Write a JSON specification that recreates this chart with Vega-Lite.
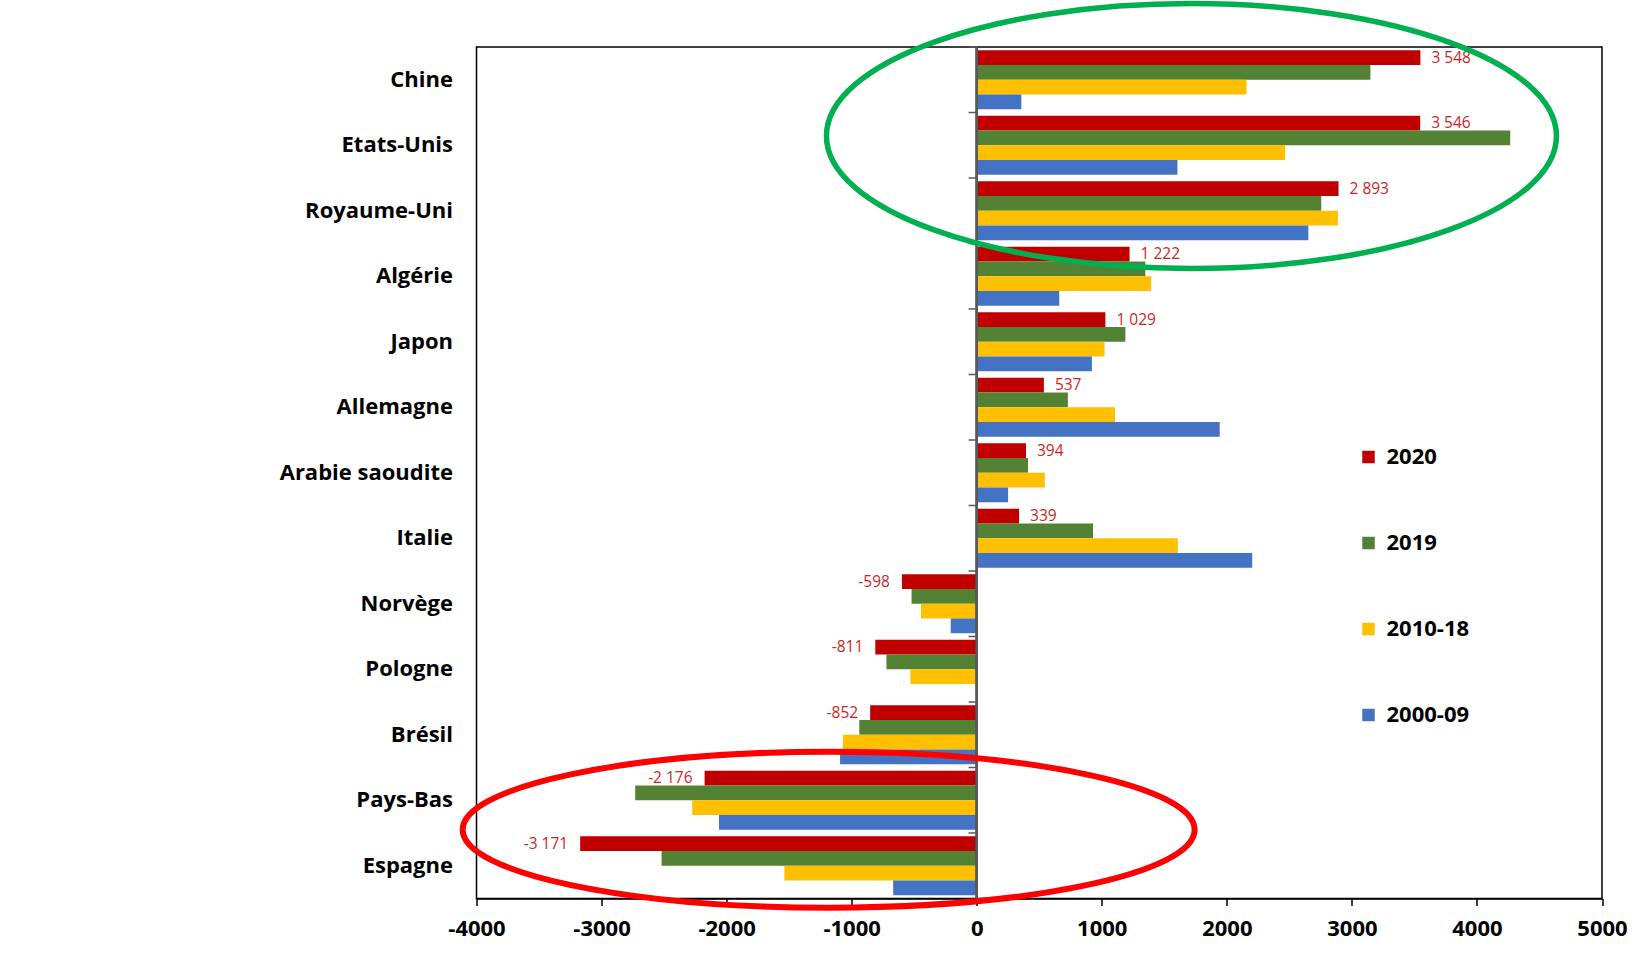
{
  "$schema": "https://vega.github.io/schema/vega-lite/v6.json",
  "width": 1125.5,
  "height": 851.5,
  "autosize": {"type": "none"},
  "padding": {"left": 476.5, "top": 47, "right": 40, "bottom": 59.5},
  "background": "white",
  "config": {
    "locale": {"number": {"decimal": ",", "thousands": " ", "grouping": [3], "currency": ["", " €"], "minus": "-"}},
    "view": {"stroke": "#000000", "strokeWidth": 1.5},
    "axis": {"grid": false},
    "font": "Open Sans"
  },
  "datasets": {
    "flux": [
      {"country": "Chine", "period": "2020", "value": 3548},
      {"country": "Chine", "period": "2019", "value": 3148},
      {"country": "Chine", "period": "2010-18", "value": 2157},
      {"country": "Chine", "period": "2000-09", "value": 357},
      {"country": "Etats-Unis", "period": "2020", "value": 3546},
      {"country": "Etats-Unis", "period": "2019", "value": 4266},
      {"country": "Etats-Unis", "period": "2010-18", "value": 2466},
      {"country": "Etats-Unis", "period": "2000-09", "value": 1605},
      {"country": "Royaume-Uni", "period": "2020", "value": 2893},
      {"country": "Royaume-Uni", "period": "2019", "value": 2755},
      {"country": "Royaume-Uni", "period": "2010-18", "value": 2888},
      {"country": "Royaume-Uni", "period": "2000-09", "value": 2652},
      {"country": "Algérie", "period": "2020", "value": 1222},
      {"country": "Algérie", "period": "2019", "value": 1348},
      {"country": "Algérie", "period": "2010-18", "value": 1395},
      {"country": "Algérie", "period": "2000-09", "value": 660},
      {"country": "Japon", "period": "2020", "value": 1029},
      {"country": "Japon", "period": "2019", "value": 1189},
      {"country": "Japon", "period": "2010-18", "value": 1022},
      {"country": "Japon", "period": "2000-09", "value": 921},
      {"country": "Allemagne", "period": "2020", "value": 537},
      {"country": "Allemagne", "period": "2019", "value": 729},
      {"country": "Allemagne", "period": "2010-18", "value": 1106},
      {"country": "Allemagne", "period": "2000-09", "value": 1943},
      {"country": "Arabie saoudite", "period": "2020", "value": 394},
      {"country": "Arabie saoudite", "period": "2019", "value": 410},
      {"country": "Arabie saoudite", "period": "2010-18", "value": 544},
      {"country": "Arabie saoudite", "period": "2000-09", "value": 251},
      {"country": "Italie", "period": "2020", "value": 339},
      {"country": "Italie", "period": "2019", "value": 930},
      {"country": "Italie", "period": "2010-18", "value": 1608},
      {"country": "Italie", "period": "2000-09", "value": 2203},
      {"country": "Norvège", "period": "2020", "value": -598},
      {"country": "Norvège", "period": "2019", "value": -521},
      {"country": "Norvège", "period": "2010-18", "value": -446},
      {"country": "Norvège", "period": "2000-09", "value": -208},
      {"country": "Pologne", "period": "2020", "value": -811},
      {"country": "Pologne", "period": "2019", "value": -722},
      {"country": "Pologne", "period": "2010-18", "value": -531},
      {"country": "Brésil", "period": "2020", "value": -852},
      {"country": "Brésil", "period": "2019", "value": -939},
      {"country": "Brésil", "period": "2010-18", "value": -1070},
      {"country": "Brésil", "period": "2000-09", "value": -1093},
      {"country": "Pays-Bas", "period": "2020", "value": -2176},
      {"country": "Pays-Bas", "period": "2019", "value": -2731},
      {"country": "Pays-Bas", "period": "2010-18", "value": -2275},
      {"country": "Pays-Bas", "period": "2000-09", "value": -2061},
      {"country": "Espagne", "period": "2020", "value": -3171},
      {"country": "Espagne", "period": "2019", "value": -2520},
      {"country": "Espagne", "period": "2010-18", "value": -1538},
      {"country": "Espagne", "period": "2000-09", "value": -668}
    ]
  },
  "data": {"name": "flux"},
  "layer": [
    {
      "mark": {"type": "bar"},
      "encoding": {
        "y": {
          "field": "country",
          "type": "nominal",
          "scale": {
            "domain": ["Chine", "Etats-Unis", "Royaume-Uni", "Algérie", "Japon", "Allemagne", "Arabie saoudite", "Italie", "Norvège", "Pologne", "Brésil", "Pays-Bas", "Espagne"],
            "paddingInner": 0.1,
            "paddingOuter": 0.05
          },
          "axis": {
            "title": null,
            "domain": false,
            "ticks": false,
            "labelFont": "Open Sans",
            "labelFontWeight": "bold",
            "labelFontSize": 22,
            "labelColor": "#000000",
            "labelPadding": 24
          }
        },
        "yOffset": {
          "field": "period",
          "type": "nominal",
          "scale": {"domain": ["2020", "2019", "2010-18", "2000-09"], "paddingInner": 0, "paddingOuter": 0}
        },
        "x": {
          "field": "value",
          "type": "quantitative",
          "scale": {"domain": [-4000, 5000], "nice": false, "zero": false},
          "axis": {
            "title": null,
            "values": [-4000, -3000, -2000, -1000, 0, 1000, 2000, 3000, 4000, 5000],
            "format": "d",
            "labelFlush": false,
            "labelFont": "Open Sans",
            "labelFontWeight": "bold",
            "labelFontSize": 22,
            "labelColor": "#000000",
            "domainColor": "#000000",
            "domainWidth": 1.5,
            "tickColor": "#000000",
            "tickWidth": 1.5,
            "tickSize": 7,
            "labelPadding": 13
          }
        },
        "color": {
          "field": "period",
          "type": "nominal",
          "scale": {
            "domain": ["2020", "2019", "2010-18", "2000-09"],
            "range": ["#C00000", "#548235", "#FFC000", "#4472C4"]
          },
          "legend": {
            "title": null,
            "orient": "none",
            "legendX": 881,
            "legendY": 399,
            "padding": 0,
            "symbolType": "square",
            "symbolSize": 156,
            "symbolStrokeWidth": 0,
            "labelFont": "Open Sans",
            "labelFontWeight": "bold",
            "labelFontSize": 22,
            "labelColor": "#000000",
            "labelOffset": 7,
            "rowPadding": 64
          }
        }
      }
    },
    {
      "mark": {"type": "rule", "color": "#595959", "strokeWidth": 1.5},
      "encoding": {"x": {"datum": 0}}
    },
    {
      "transform": [{"filter": "datum.period === '2020'"}],
      "mark": {"type": "rule", "color": "#595959", "strokeWidth": 1.5},
      "encoding": {
        "y": {"field": "country", "type": "nominal", "bandPosition": -0.0556},
        "x": {"datum": -65},
        "x2": {"datum": 0}
      }
    },
    {
      "transform": [{"filter": "datum.period === '2020' && datum.value > 0"}],
      "mark": {"type": "text", "align": "left", "baseline": "middle", "dx": 11, "font": "Open Sans", "fontSize": 15.5, "color": "#CC1F1F"},
      "encoding": {
        "y": {"field": "country", "type": "nominal"},
        "yOffset": {"field": "period", "type": "nominal"},
        "x": {"field": "value", "type": "quantitative"},
        "text": {"field": "value", "type": "quantitative", "format": ",d"}
      }
    },
    {
      "transform": [{"filter": "datum.period === '2020' && datum.value < 0"}],
      "mark": {"type": "text", "align": "right", "baseline": "middle", "dx": -12, "font": "Open Sans", "fontSize": 15.5, "color": "#CC1F1F"},
      "encoding": {
        "y": {"field": "country", "type": "nominal"},
        "yOffset": {"field": "period", "type": "nominal"},
        "x": {"field": "value", "type": "quantitative"},
        "text": {"field": "value", "type": "quantitative", "format": ",d"}
      }
    },
    {
      "data": {"values": [{"country": "Etats-Unis", "value": 1717}]},
      "mark": {
        "type": "point",
        "shape": "M-1,0 A1,0.363 0 1,1 1,0 A1,0.363 0 1,1 -1,0 Z",
        "size": 532900,
        "filled": false,
        "stroke": "#00B050",
        "strokeWidth": 5.5,
        "opacity": 1
      },
      "encoding": {
        "y": {"field": "country", "type": "nominal", "bandPosition": 0.343},
        "x": {"field": "value", "type": "quantitative"}
      }
    },
    {
      "data": {"values": [{"country": "Pays-Bas", "value": -1184}]},
      "mark": {
        "type": "point",
        "shape": "M-1,0 A1,0.213 0 1,1 1,0 A1,0.213 0 1,1 -1,0 Z",
        "size": 535824,
        "filled": false,
        "stroke": "#FF0000",
        "strokeWidth": 6,
        "opacity": 1
      },
      "encoding": {
        "y": {"field": "country", "type": "nominal", "bandPosition": 1.0},
        "x": {"field": "value", "type": "quantitative"}
      }
    }
  ]
}
